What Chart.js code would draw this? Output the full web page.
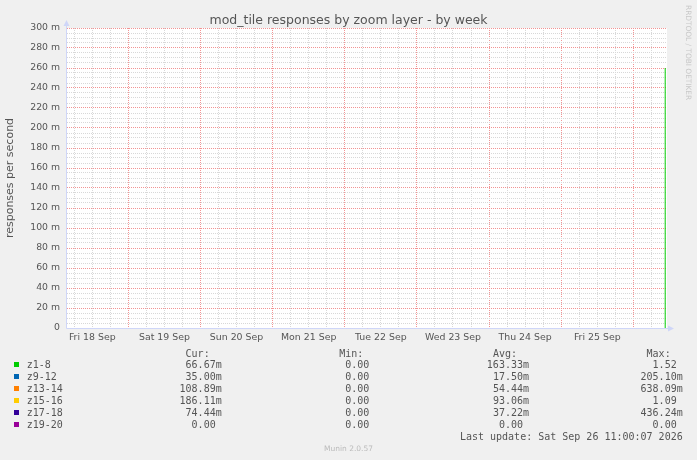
<!DOCTYPE html>
<html>
<head>
<meta charset="utf-8">
<script src="https://cdn.jsdelivr.net/npm/chart.js@4.4.1/dist/chart.umd.min.js"></script>
<style>
html, body { margin: 0; padding: 0; background: #f0f0f0; }
#wrap { position: relative; width: 697px; height: 460px; overflow: hidden; }
#c { position: absolute; left: 0; top: 0; }
.t { position: absolute; white-space: pre; color: #555; font-family: "DejaVu Sans"; }
.m { font-family: "DejaVu Sans Mono"; font-size: 10px; line-height: 12px; }
</style>
</head>
<body>
<div id="wrap">
  <canvas id="c" width="697" height="460"></canvas>
</div>
<script>
// legend series
var seriesNames = ['z1-8', 'z9-12', 'z13-14', 'z15-16', 'z17-18', 'z19-20'];
var seriesColors = ['#00CC00', '#0066B3', '#FF8000', '#FFCC00', '#330099', '#990099'];
var curValues = [0.06667, 0.035, 0.10889, 0.18611, 0.07444, 0];
var minValues = [0, 0, 0, 0, 0, 0];
var avgValues = [0.16333, 0.0175, 0.05444, 0.09306, 0.03722, 0];
var maxValues = [1.52, 0.2051, 0.63809, 1.09, 0.43624, 0];

// x axis: hours since Fri 18 Sep 00:00
var dayLabels = ['Fri 18 Sep', 'Sat 19 Sep', 'Sun 20 Sep', 'Mon 21 Sep', 'Tue 22 Sep', 'Wed 23 Sep', 'Thu 24 Sep', 'Fri 25 Sep'];
var xStart = 3.6, xEnd = 203.2;

// the only visible mark: z1-8 jumps at the last sample
var z18Hours = [202.6, 202.6];
var z18Values = [0, 0.26];

var AXIS = '#CFD6F8';
var MAJOR = '#f29494';
var MINOR = '#d8d8d8';

var bgPlugin = {
  id: 'rrdlook',
  beforeDraw: function(chart) {
    var a = chart.chartArea, ctx = chart.ctx;
    ctx.save();
    ctx.fillStyle = '#ffffff';
    ctx.fillRect(a.left, a.top, a.right - a.left, a.bottom - a.top);
    ctx.restore();
  },
  afterDatasetsDraw: function(chart) {
    var a = chart.chartArea, ctx = chart.ctx;
    ctx.save();
    ctx.strokeStyle = AXIS;
    ctx.fillStyle = AXIS;
    ctx.lineWidth = 1;
    ctx.beginPath();
    ctx.moveTo(a.left - 0.5, a.top - 2);
    ctx.lineTo(a.left - 0.5, a.bottom + 0.5);
    ctx.lineTo(a.right + 1, a.bottom + 0.5);
    ctx.stroke();
    // arrows
    ctx.beginPath();
    ctx.moveTo(a.left - 3.5, a.top - 2);
    ctx.lineTo(a.left - 0.5, a.top - 8);
    ctx.lineTo(a.left + 2.5, a.top - 2);
    ctx.closePath();
    ctx.fill();
    ctx.beginPath();
    ctx.moveTo(a.right + 1, a.bottom - 2.5);
    ctx.lineTo(a.right + 7, a.bottom + 0.5);
    ctx.lineTo(a.right + 1, a.bottom + 3.5);
    ctx.closePath();
    ctx.fill();
    ctx.restore();
  }
};

var ctx = document.getElementById('c').getContext('2d');
var myChart = new Chart(ctx, {
  type: 'line',
  data: {
    datasets: [{
      label: seriesNames[0],
      data: z18Hours.map(function(h, i) { return {x: h, y: z18Values[i]}; }),
      borderColor: seriesColors[0],
      backgroundColor: seriesColors[0],
      borderWidth: 1,
      pointRadius: 0,
      fill: false,
      tension: 0
    }]
  },
  options: {
    responsive: false,
    animation: false,
    layout: { padding: { left: 0, top: 28, right: 30, bottom: 112 } },
    plugins: {
      legend: { display: false },
      tooltip: { enabled: false },
      title: { display: false }
    },
    scales: {
      x: {
        type: 'linear',
        min: xStart,
        max: xEnd,
        afterBuildTicks: function(scale) {
          var t = [];
          for (var h = 6; h < xEnd; h += 6) t.push({value: h});
          scale.ticks = t;
        },
        afterFit: function(scale) { scale.height = 20; },
        ticks: {
          autoSkip: false,
          maxRotation: 0,
          padding: 4,
          color: '#555',
          font: { family: 'DejaVu Sans', size: 9.4 },
          callback: function(v) {
            return (v % 24 === 12) ? dayLabels[(v - 12) / 24] : '';
          }
        },
        grid: {
          drawTicks: false,
          lineWidth: 1,
          color: function(c) { return (c.tick && c.tick.value % 24 === 0) ? MAJOR : MINOR; }
        },
        border: { display: false, dash: [1, 1] }
      },
      y: {
        min: 0,
        max: 0.3,
        afterBuildTicks: function(scale) {
          var t = [];
          for (var i = 0; i <= 60; i++) t.push({value: i * 0.005});
          scale.ticks = t;
        },
        afterFit: function(scale) { scale.width = 67; },
        ticks: {
          autoSkip: false,
          padding: 7,
          color: '#555',
          font: { family: 'DejaVu Sans', size: 9.3 },
          callback: function(v, i) {
            if (i % 4 !== 0) return '';
            return i === 0 ? '0' : (i * 5) + ' m';
          }
        },
        grid: {
          drawTicks: false,
          lineWidth: 1,
          color: function(c) { return (c.index % 4 === 0) ? MAJOR : MINOR; }
        },
        border: { display: false, dash: [1, 1] },
        title: {
          display: true,
          text: 'responses per second',
          color: '#555',
          font: { family: 'DejaVu Sans', size: 11 },
          padding: { top: 4, bottom: 0 }
        }
      }
    }
  },
  plugins: [bgPlugin]
});

// text around the graph, rrdtool style
var wrap = document.getElementById('wrap');
function addText(txt, cls, css) {
  var d = document.createElement('div');
  d.className = cls;
  d.textContent = txt;
  for (var k in css) d.style[k] = css[k];
  wrap.appendChild(d);
  return d;
}
function fmt(v) {
  if (v !== 0 && Math.abs(v) < 1) return (v * 1000).toFixed(2) + 'm';
  return v.toFixed(2) + ' ';
}

addText('mod_tile responses by zoom layer - by week', 't', {
  left: '0px', width: '697px', textAlign: 'center', top: '11.5px',
  fontSize: '12.5px', lineHeight: '16px'
});
addText('RRDTOOL / TOBI OETIKER', 't', {
  left: '684px', top: '5px', fontSize: '7.4px', lineHeight: '8px',
  writingMode: 'vertical-rl', color: '#c8c8c8'
});
addText('Munin 2.0.57', 't', {
  left: '0px', width: '697px', textAlign: 'center', top: '444px',
  fontSize: '7.5px', lineHeight: '10px', color: '#bbb'
});

var colRight = [221.7, 375.3, 529, 682.7];
var colHead = ['Cur:', 'Min:', 'Avg:', 'Max:'];
var colVals = [curValues, minValues, avgValues, maxValues];
for (var c = 0; c < 4; c++) {
  addText(colHead[c] + '  ', 't m', { right: (697 - colRight[c]) + 'px', top: '347.5px' });
}
for (var i = 0; i < seriesNames.length; i++) {
  var rowTop = 358.5 + 12 * i;
  var sq = document.createElement('div');
  sq.style.cssText = 'position:absolute;left:14px;top:' + (rowTop + 3.5) + 'px;width:5px;height:5px;background:' + seriesColors[i];
  wrap.appendChild(sq);
  addText(seriesNames[i], 't m', { left: '26.7px', top: rowTop + 'px' });
  for (var c2 = 0; c2 < 4; c2++) {
    addText(fmt(colVals[c2][i]), 't m', { right: (697 - colRight[c2]) + 'px', top: rowTop + 'px' });
  }
}
addText('Last update: Sat Sep 26 11:00:07 2026', 't m', { right: (697 - 682.7) + 'px', top: '430.5px' });
</script>
</body>
</html>
